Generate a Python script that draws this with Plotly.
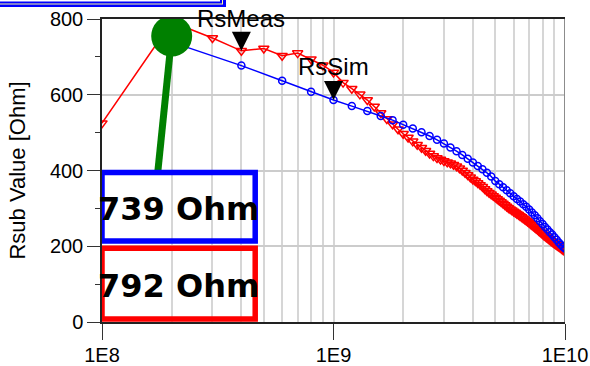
import numpy as np
import plotly.graph_objects as go

# Frequency sweeps (Hz)
freq_meas = np.arange(1, 101) * 1e8      # 0.1 .. 10 GHz, 0.1 GHz step
freq_sim = np.arange(1, 51) * 2e8        # 0.2 .. 10 GHz, 0.2 GHz step

# Measured substrate resistance (Ohm)
rs_meas = [
    525, 792, 750, 716, 722, 703, 710, 694, 678, 659,
    632, 616, 601, 586, 569, 552, 536, 522, 509, 497,
    487, 477, 468, 460, 452, 445, 438, 433, 429, 425,
    422, 419, 415, 411, 406, 400, 394, 388, 382, 376,
    372, 367, 362, 357, 351, 346, 341, 337, 333, 329,
    325, 321, 317, 313, 309, 305, 301, 298, 295, 292,
    289, 286, 283, 280, 277, 274, 271, 268, 265, 262,
    259, 256, 253, 250, 247, 244, 241, 238, 235, 232,
    229, 227, 224, 222, 219, 217, 214, 212, 209, 207,
    205, 203, 201, 199, 197, 195, 193, 191, 189, 187,
]

# Simulated substrate resistance (Ohm)
rs_sim = [
    739, 677, 637, 608, 586, 570, 557, 544, 533, 521,
    511, 501, 491, 481, 471, 461, 451, 441, 431, 421,
    412, 403, 394, 384, 372, 364, 356, 348, 340, 332,
    325, 318, 311, 304, 297, 289, 282, 274, 266, 259,
    251, 244, 237, 231, 224, 217, 210, 204, 199, 194,
]

x_tick_vals = [1e8, 1e9, 1e10]
x_tick_text = ["1E8", "1E9", "1E10"]
x_minor_vals = [m * 1e8 for m in range(2, 10)] + [m * 1e9 for m in range(2, 10)]
y_tick_vals = [0, 200, 400, 600, 800]
y_minor_vals = [100, 300, 500, 700]

marker_freq = 2e8           # frequency highlighted by the green marker
marker_level = 755
stem_end = (1.743e8, 398)   # where the green stem meets the value boxes
meas_flag_freq = 4e8        # RsMeas flag
sim_flag_freq = 1e9         # RsSim flag

meas_at = dict(zip(freq_meas.tolist(), rs_meas))
sim_at = dict(zip(freq_sim.tolist(), rs_sim))

# Plot-area geometry in pixels
W, H = 590, 366
ML, MR, MT, MB = 102, 25, 19, 44
PW, PH = W - ML - MR, H - MT - MB


def paper_x(px):
    return (px - ML) / PW


def paper_y(py):
    return (H - MB - py) / PH


FONT = "Arial, Liberation Sans, sans-serif"
GRID = "#d6d6d6"

fig = go.Figure()

fig.add_trace(go.Scatter(
    x=freq_meas, y=rs_meas, mode="lines+markers", name="RsMeas",
    line=dict(color="#ff0000", width=1.5),
    marker=dict(symbol="triangle-down-open", size=9, color="#ff0000",
                line=dict(width=1.5, color="#ff0000")),
))
fig.add_trace(go.Scatter(
    x=freq_sim, y=rs_sim, mode="lines+markers", name="RsSim",
    line=dict(color="#0000ff", width=1.5),
    marker=dict(symbol="circle-open", size=7, color="#0000ff",
                line=dict(width=1.5, color="#0000ff")),
))
# Green marker with its stem down to the readout boxes
fig.add_trace(go.Scatter(
    x=[marker_freq, stem_end[0]], y=[marker_level, stem_end[1]], mode="lines",
    line=dict(color="#008000", width=7), hoverinfo="skip",
))
fig.add_trace(go.Scatter(
    x=[marker_freq], y=[marker_level], mode="markers",
    marker=dict(symbol="circle", size=41, color="#008000"), hoverinfo="skip",
))

shapes = []
# Readout boxes (blue = simulation, red = measurement)
box_x0, box_x1 = 1e8, 4.59e8
shapes.append(dict(type="rect", xref="x", yref="y", x0=box_x0, x1=box_x1,
                   y0=214, y1=395, line=dict(color="#0000ff", width=5.5),
                   layer="above"))
shapes.append(dict(type="rect", xref="x", yref="y", x0=box_x0, x1=box_x1,
                   y0=8, y1=195, line=dict(color="#ff0000", width=5.5),
                   layer="above"))
# Flag triangles pointing at the curves
for f, v in [(meas_flag_freq, meas_at[meas_flag_freq]),
             (sim_flag_freq, sim_at[sim_flag_freq])]:
    shapes.append(dict(type="path", xref="x", yref="y",
                       xsizemode="pixel", ysizemode="pixel",
                       xanchor=f, yanchor=v,
                       path="M -9.5 19 L 9.5 19 L 0 0 Z",
                       fillcolor="black", line=dict(width=0), layer="above"))
# Right frame edge
shapes.append(dict(type="line", xref="x", yref="y", x0=1e10, x1=1e10,
                   y0=0, y1=800, line=dict(color="#8c8c8c", width=2)))
# Title strip at the top-left corner: stacked bands (outer blue, light rule, inner blue)
for right, bottom, colour in [(226, 7, "#0000ff"), (223, 4.5, "#ffff99"),
                              (222, 3.5, "#0000ff"), (220, 1.5, "#ffffff")]:
    shapes.append(dict(type="rect", xref="paper", yref="paper",
                       x0=paper_x(-10), x1=paper_x(right),
                       y0=paper_y(bottom), y1=paper_y(-30),
                       fillcolor=colour, line=dict(width=0), layer="above"))

box_cx = np.sqrt(box_x0 * box_x1)
annotations = [
    dict(x=np.log10(box_cx), y=(214 + 395) / 2, xref="x", yref="y",
         text=f"<b>{rs_sim[0]} Ohm</b>", showarrow=False,
         font=dict(family="DejaVu Sans", size=32, color="black"),
         xanchor="center", yanchor="middle", yshift=-2),
    dict(x=np.log10(box_cx), y=(8 + 195) / 2, xref="x", yref="y",
         text=f"<b>{rs_meas[1]} Ohm</b>", showarrow=False,
         font=dict(family="DejaVu Sans", size=32, color="black"),
         xanchor="center", yanchor="middle", yshift=-2),
    dict(x=np.log10(meas_flag_freq), y=meas_at[meas_flag_freq], xref="x", yref="y",
         text="RsMeas", showarrow=False, font=dict(family=FONT, size=24, color="black"),
         xanchor="center", yanchor="bottom", yshift=17),
    dict(x=np.log10(sim_flag_freq), y=sim_at[sim_flag_freq], xref="x", yref="y",
         text="RsSim", showarrow=False, font=dict(family=FONT, size=24, color="black"),
         xanchor="center", yanchor="bottom", yshift=18),
]

fig.update_layout(
    width=W, height=H,
    margin=dict(l=ML, r=MR, t=MT, b=MB, autoexpand=False),
    paper_bgcolor="white", plot_bgcolor="white",
    showlegend=False,
    font=dict(family=FONT, size=20, color="black"),
    shapes=shapes, annotations=annotations,
)
fig.update_xaxes(
    type="log", range=[8, 10], automargin=False,
    tickmode="array", tickvals=x_tick_vals, ticktext=x_tick_text,
    ticks="outside", ticklen=16, tickcolor="#333333", tickwidth=1,
    ticklabelstandoff=-2,
    showline=True, linecolor="#222222", linewidth=1.5, mirror=True,
    showgrid=True, gridcolor=GRID, gridwidth=1.5,
    minor=dict(tickmode="array", tickvals=x_minor_vals, ticks="",
               showgrid=True, gridcolor=GRID, gridwidth=1.5),
    tickfont=dict(family=FONT, size=20, color="black"),
    zeroline=False,
)
fig.update_yaxes(
    range=[0, 800], automargin=False,
    tickmode="array", tickvals=y_tick_vals,
    ticks="outside", ticklen=13, tickcolor="#333333", tickwidth=1,
    showline=True, linecolor="#222222", linewidth=1.5, mirror=False,
    showgrid=True, gridcolor="#cccccc", gridwidth=1.5,
    minor=dict(tickmode="array", tickvals=y_minor_vals, ticks="outside",
               ticklen=5, tickcolor="#333333", showgrid=False),
    tickfont=dict(family=FONT, size=20, color="black"),
    title=dict(text="Rsub Value [Ohm]", font=dict(family=FONT, size=22, color="black"),
               standoff=18),
    zeroline=False,
)

fig.write_html("out.html")
